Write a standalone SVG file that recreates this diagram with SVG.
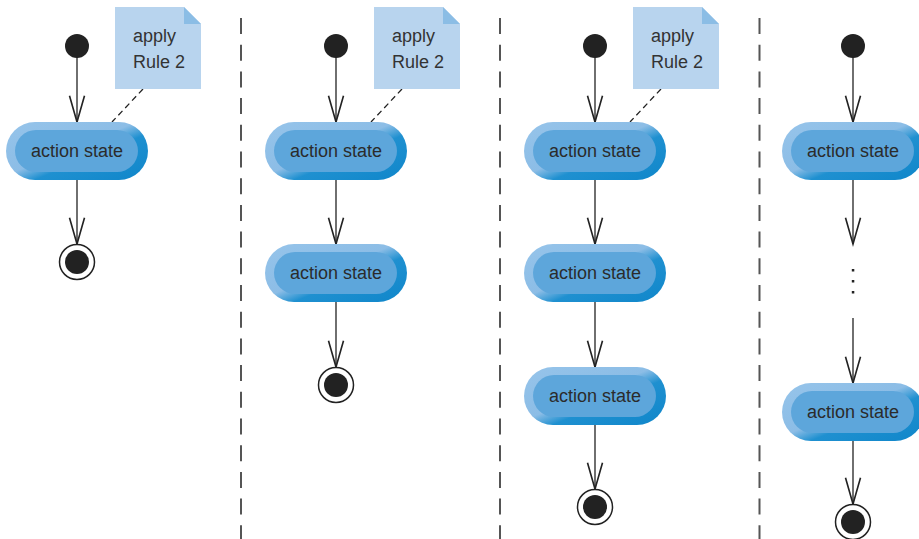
<svg xmlns="http://www.w3.org/2000/svg" width="919" height="539" viewBox="0 0 919 539">
<style>
.lbl{font-family:"Liberation Sans",Arial,sans-serif;font-size:18px;fill:#2b2b2b;text-anchor:middle}
.ntxt{font-family:"Liberation Sans",Arial,sans-serif;font-size:18px;fill:#333}
.edge{stroke:#222;stroke-width:1.3;fill:none}
.arr{marker-end:url(#head)}
.div{stroke:#555;stroke-width:2;stroke-dasharray:16 10.7;fill:none}
.anch{stroke:#222;stroke-width:1.3;stroke-dasharray:6 4;fill:none}
.outer{fill:url(#g)}
.inner{fill:#5da6db}
.note{fill:#b8d4ee}
.fold{fill:#8bbde5}
.init{fill:#222}
.fring{fill:#fff;stroke:#222;stroke-width:1.5}
.dot{fill:#222}
</style>
<defs>
<linearGradient id="g" x1="0" y1="0" x2="1" y2="1">
<stop offset="0" stop-color="#96c4ea"/>
<stop offset="0.46" stop-color="#8cbde6"/>
<stop offset="0.6" stop-color="#1f90d0"/>
<stop offset="1" stop-color="#0f86ca"/>
</linearGradient>
<marker id="head" markerUnits="userSpaceOnUse" markerWidth="30" markerHeight="20" refX="0" refY="0" orient="auto" viewBox="-22 -8 24 16" overflow="visible">
<path d="M-21,-6 L0,0 L-21,6" fill="none" stroke="#222" stroke-width="1.3"/>
</marker>
</defs>

<g id="dividers">
<line class="div" x1="241" y1="18" x2="241" y2="539"/>
<line class="div" x1="500" y1="18" x2="500" y2="539"/>
<line class="div" x1="759.5" y1="18" x2="759.5" y2="539"/>
</g>

<g id="connectors">
<line class="edge arr" x1="77" y1="57" x2="77" y2="122"/>
<line class="edge arr" x1="77" y1="180" x2="77" y2="244"/>
<line class="anch" x1="143" y1="89" x2="112" y2="122"/>

<line class="edge arr" x1="336" y1="57" x2="336" y2="122"/>
<line class="edge arr" x1="336" y1="180" x2="336" y2="244"/>
<line class="edge arr" x1="336" y1="302" x2="336" y2="367"/>
<line class="anch" x1="402" y1="89" x2="371" y2="122"/>

<line class="edge arr" x1="595" y1="57" x2="595" y2="122"/>
<line class="edge arr" x1="595" y1="180" x2="595" y2="244"/>
<line class="edge arr" x1="595" y1="302" x2="595" y2="367"/>
<line class="edge arr" x1="595" y1="425" x2="595" y2="489"/>
<line class="anch" x1="661" y1="89" x2="630" y2="122"/>

<line class="edge arr" x1="853" y1="57" x2="853" y2="122"/>
<line class="edge arr" x1="853" y1="180" x2="853" y2="244"/>
<line class="edge arr" x1="853" y1="318" x2="853" y2="383"/>
<line class="edge arr" x1="853" y1="440" x2="853" y2="504"/>
</g>

<g id="init1"><circle class="init" cx="77" cy="46" r="12"/></g>
<g id="init2"><circle class="init" cx="336" cy="46" r="12"/></g>
<g id="init3"><circle class="init" cx="595" cy="46" r="12"/></g>
<g id="init4"><circle class="init" cx="853" cy="46" r="12"/></g>

<g id="note1">
<path class="note" d="M115,7 H184 L201,24 V89 H115 Z"/>
<path class="fold" d="M184,7 L201,24 H184 Z"/>
<text class="ntxt" x="133" y="42">apply</text>
<text class="ntxt" x="133" y="68">Rule 2</text>
</g>
<g id="note2">
<path class="note" d="M374,7 H443 L460,24 V89 H374 Z"/>
<path class="fold" d="M443,7 L460,24 H443 Z"/>
<text class="ntxt" x="392" y="42">apply</text>
<text class="ntxt" x="392" y="68">Rule 2</text>
</g>
<g id="note3">
<path class="note" d="M633,7 H702 L719,24 V89 H633 Z"/>
<path class="fold" d="M702,7 L719,24 H702 Z"/>
<text class="ntxt" x="651" y="42">apply</text>
<text class="ntxt" x="651" y="68">Rule 2</text>
</g>

<g id="state1a">
<rect class="outer" x="6" y="122" width="142" height="58" rx="29"/>
<rect class="inner" x="15" y="130" width="123" height="42" rx="21"/>
<text class="lbl" x="77" y="157">action state</text>
</g>

<g id="state2a">
<rect class="outer" x="265" y="122" width="142" height="58" rx="29"/>
<rect class="inner" x="274" y="130" width="123" height="42" rx="21"/>
<text class="lbl" x="336" y="157">action state</text>
</g>
<g id="state2b">
<rect class="outer" x="265" y="244" width="142" height="58" rx="29"/>
<rect class="inner" x="274" y="252" width="123" height="42" rx="21"/>
<text class="lbl" x="336" y="279">action state</text>
</g>

<g id="state3a">
<rect class="outer" x="524" y="122" width="142" height="58" rx="29"/>
<rect class="inner" x="533" y="130" width="123" height="42" rx="21"/>
<text class="lbl" x="595" y="157">action state</text>
</g>
<g id="state3b">
<rect class="outer" x="524" y="244" width="142" height="58" rx="29"/>
<rect class="inner" x="533" y="252" width="123" height="42" rx="21"/>
<text class="lbl" x="595" y="279">action state</text>
</g>
<g id="state3c">
<rect class="outer" x="524" y="367" width="142" height="58" rx="29"/>
<rect class="inner" x="533" y="375" width="123" height="42" rx="21"/>
<text class="lbl" x="595" y="402">action state</text>
</g>

<g id="state4a">
<rect class="outer" x="782" y="122" width="142" height="58" rx="29"/>
<rect class="inner" x="791" y="130" width="123" height="42" rx="21"/>
<text class="lbl" x="853" y="157">action state</text>
</g>
<g id="ellipsis4">
<rect class="dot" x="851.8" y="269" width="2.5" height="2.5"/>
<rect class="dot" x="851.8" y="280" width="2.5" height="2.5"/>
<rect class="dot" x="851.8" y="291" width="2.5" height="2.5"/>
</g>
<g id="state4b">
<rect class="outer" x="782" y="383" width="142" height="58" rx="29"/>
<rect class="inner" x="791" y="391" width="123" height="42" rx="21"/>
<text class="lbl" x="853" y="418">action state</text>
</g>

<g id="final1"><circle class="fring" cx="77" cy="262" r="17.5"/><circle class="init" cx="77" cy="262" r="12"/></g>
<g id="final2"><circle class="fring" cx="336" cy="385" r="17.5"/><circle class="init" cx="336" cy="385" r="12"/></g>
<g id="final3"><circle class="fring" cx="595" cy="507" r="17.5"/><circle class="init" cx="595" cy="507" r="12"/></g>
<g id="final4"><circle class="fring" cx="853" cy="522" r="17.5"/><circle class="init" cx="853" cy="522" r="12"/></g>
</svg>
